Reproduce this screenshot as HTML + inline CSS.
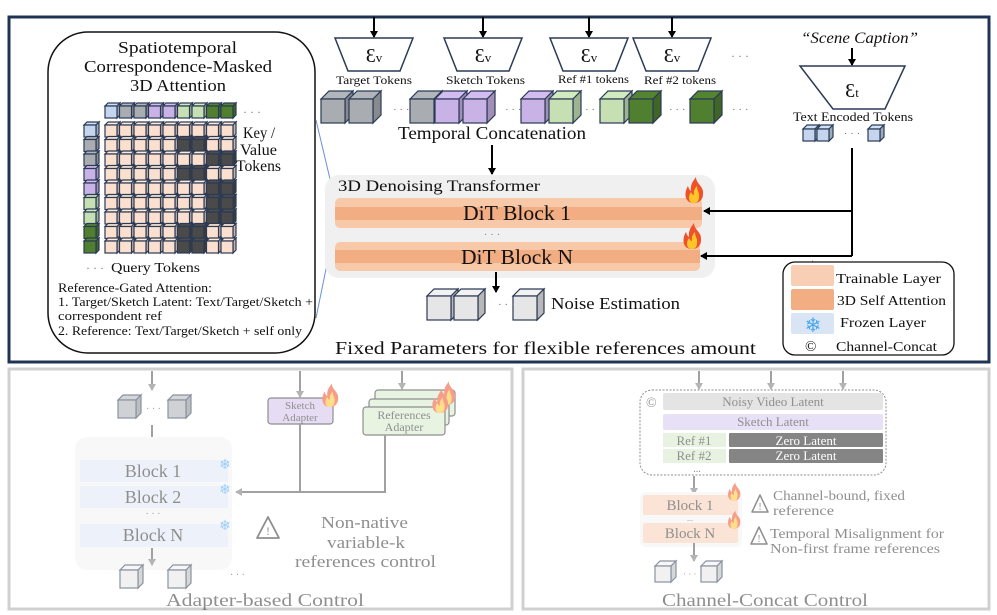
<!DOCTYPE html>
<html><head><meta charset="utf-8"><style>
html,body{margin:0;padding:0;background:#fff;}
svg{display:block;font-family:"Liberation Serif",serif;}
</style></head><body>
<svg id="s" width="997" height="615" viewBox="0 0 997 615" xmlns="http://www.w3.org/2000/svg">
<defs>
<marker id="ah" markerWidth="8" markerHeight="8" refX="6" refY="4" orient="auto" markerUnits="userSpaceOnUse"><path d="M0,0 L7,4 L0,8 Z" fill="#000"/></marker>
<marker id="ag" markerWidth="8" markerHeight="8" refX="6" refY="4" orient="auto" markerUnits="userSpaceOnUse"><path d="M0,0 L7,4 L0,8 Z" fill="#777"/></marker>
</defs>
<rect x="9" y="17" width="980" height="345" fill="#fff" stroke="#1f3455" stroke-width="3"/>
<rect x="9" y="369" width="503" height="240" fill="#fff" stroke="#d0d0d0" stroke-width="3"/>
<rect x="523" y="369" width="466" height="240" fill="#fff" stroke="#d0d0d0" stroke-width="3"/>

<rect x="48" y="32" width="267" height="321" rx="40" fill="#fff" stroke="#111" stroke-width="1.5"/>
<line x1="316" y1="120" x2="335" y2="200" stroke="#6a8fd8" stroke-width="1"/>
<line x1="316" y1="318" x2="335" y2="225" stroke="#6a8fd8" stroke-width="1"/>
<g font-size="17" fill="#111" lengthAdjust="spacingAndGlyphs">
<text x="118" y="53" textLength="119" lengthAdjust="spacingAndGlyphs">Spatiotemporal</text>
<text x="84" y="72" textLength="188" lengthAdjust="spacingAndGlyphs">Correspondence-Masked</text>
<text x="130" y="91" textLength="96" lengthAdjust="spacingAndGlyphs">3D Attention</text>
</g>
<g font-size="16" fill="#111">
<text x="243" y="138" textLength="32" lengthAdjust="spacingAndGlyphs">Key /</text>
<text x="240" y="155" textLength="37" lengthAdjust="spacingAndGlyphs">Value</text>
<text x="236" y="171" textLength="45" lengthAdjust="spacingAndGlyphs">Tokens</text>
<text x="243" y="116" font-size="12" fill="#777">· · ·</text>
<text x="86" y="272" font-size="12" fill="#777">· · ·</text>
<text x="111" y="272" font-size="14" textLength="89" lengthAdjust="spacingAndGlyphs">Query Tokens</text>
</g>
<g font-size="13" fill="#111">
<text x="58" y="292" textLength="154" lengthAdjust="spacingAndGlyphs">Reference-Gated Attention:</text>
<text x="58" y="306" textLength="255" lengthAdjust="spacingAndGlyphs">1. Target/Sketch  Latent: Text/Target/Sketch +</text>
<text x="58" y="320" textLength="104" lengthAdjust="spacingAndGlyphs">correspondent ref</text>
<text x="58" y="335" textLength="244" lengthAdjust="spacingAndGlyphs">2. Reference: Text/Target/Sketch + self only</text>
</g>
<g id="grid"></g>

<g id="enc"></g>
<g font-size="12" fill="#111">
<text x="336" y="84" textLength="76" lengthAdjust="spacingAndGlyphs">Target Tokens</text>
<text x="446" y="84" textLength="79" lengthAdjust="spacingAndGlyphs">Sketch Tokens</text>
<text x="558" y="83" textLength="71" lengthAdjust="spacingAndGlyphs">Ref #1 tokens</text>
<text x="644" y="84" textLength="72" lengthAdjust="spacingAndGlyphs">Ref #2 tokens</text>
<text x="731" y="60" fill="#777">· · ·</text>
</g>
<g id="cubes"></g>
<text x="398" y="139" font-size="18" fill="#111" textLength="188" lengthAdjust="spacingAndGlyphs">Temporal Concatenation</text>
<line x1="492" y1="145" x2="492" y2="174" stroke="#000" stroke-width="2" marker-end="url(#ah)"/>

<rect x="325" y="175" width="390" height="103" rx="14" fill="#f0f0f0"/>
<text x="338" y="191" font-size="16" fill="#111" textLength="202" lengthAdjust="spacingAndGlyphs">3D Denoising Transformer</text>
<rect x="335" y="198" width="367" height="30" rx="5" fill="#f7c9a9"/>
<rect x="335" y="207" width="367" height="13" fill="#f2ad82"/>
<text x="463" y="220" font-size="21" fill="#111" textLength="108" lengthAdjust="spacingAndGlyphs">DiT Block 1</text>
<text x="492" y="238" font-size="11" text-anchor="middle" fill="#888">· · ·</text>
<rect x="335" y="242" width="365" height="29" rx="5" fill="#f7c9a9"/>
<rect x="335" y="250" width="365" height="13" fill="#f2ad82"/>
<text x="461" y="264" font-size="21" fill="#111" textLength="112" lengthAdjust="spacingAndGlyphs">DiT Block N</text>
<g id="fires"></g>

<text x="801" y="43" font-size="16" font-style="italic" fill="#111" textLength="117" lengthAdjust="spacingAndGlyphs">“Scene Caption”</text>
<line x1="852" y1="48" x2="852" y2="65" stroke="#000" stroke-width="2" marker-end="url(#ah)"/>
<path d="M800,66 L905,66 L885,109 L833,109 Z" fill="#fff" stroke="#2b3a55" stroke-width="1.5"/>
<text x="852" y="97" font-size="20" text-anchor="middle" fill="#111">Ɛ<tspan font-size="13">t</tspan></text>
<text x="793" y="121" font-size="13" fill="#111" textLength="120" lengthAdjust="spacingAndGlyphs">Text Encoded Tokens</text>
<text x="852" y="137" font-size="11" text-anchor="middle" fill="#777">· · ·</text>
<path d="M852,148 L852,256" stroke="#000" stroke-width="2" fill="none"/>
<line x1="852" y1="211" x2="704" y2="211" stroke="#000" stroke-width="2" marker-end="url(#ah)"/>
<line x1="852" y1="256" x2="701" y2="256" stroke="#000" stroke-width="2" marker-end="url(#ah)"/>

<line x1="496" y1="272" x2="496" y2="292" stroke="#000" stroke-width="2" marker-end="url(#ah)"/>
<text x="498" y="308" font-size="11" fill="#777">· · ·</text>
<text x="551" y="309" font-size="17" fill="#111" textLength="129" lengthAdjust="spacingAndGlyphs">Noise Estimation</text>
<text x="335" y="354" font-size="18" fill="#111" textLength="421" lengthAdjust="spacingAndGlyphs">Fixed Parameters for flexible references amount</text>

<rect x="783" y="262" width="171" height="93" rx="12" fill="#fff" stroke="#111" stroke-width="1.3"/>
<rect x="791" y="265" width="43" height="21" rx="2" fill="#f8cfb4"/>
<rect x="791" y="289" width="43" height="21" rx="2" fill="#f2ad82"/>
<rect x="791" y="313" width="43" height="21" rx="2" fill="#d9e5f5"/>
<g font-size="14" fill="#111">
<text x="836" y="283" textLength="105" lengthAdjust="spacingAndGlyphs">Trainable Layer</text>
<text x="837" y="305" textLength="109" lengthAdjust="spacingAndGlyphs">3D Self Attention</text>
<text x="840" y="327" textLength="86" lengthAdjust="spacingAndGlyphs">Frozen Layer</text>
<text x="805" y="351" font-size="15">©</text>
<text x="836" y="351" textLength="101" lengthAdjust="spacingAndGlyphs">Channel-Concat</text>
</g>
<text x="813" y="332" font-size="20" text-anchor="middle" fill="#4aa8f0">❄</text>

<g id="bl" opacity="0.55">
<line x1="152" y1="371" x2="152" y2="390" stroke="#555" stroke-width="2" marker-end="url(#ag)"/>
<text x="146" y="412" font-size="10" fill="#555">· · ·</text>
<line x1="152" y1="425" x2="152" y2="458" stroke="#555" stroke-width="2" marker-end="url(#ag)"/>
<rect x="75" y="437" width="157" height="133" rx="12" fill="#f3f3f3"/>
<rect x="80" y="460" width="148" height="22" fill="#dfe7f6"/>
<rect x="80" y="486" width="148" height="22" fill="#dfe7f6"/>
<rect x="80" y="524" width="148" height="23" fill="#dfe7f6"/>
<g font-size="18" text-anchor="middle" fill="#333">
<text x="153" y="477">Block 1</text>
<text x="153" y="503">Block 2</text>
<text x="153" y="541">Block N</text>
</g>
<text x="153" y="517" font-size="10" text-anchor="middle" fill="#555">· · ·</text>
<g font-size="14" fill="#4aa8f0" text-anchor="middle"><text x="225" y="469">❄</text><text x="225" y="494">❄</text><text x="225" y="530">❄</text></g>
<line x1="152" y1="548" x2="152" y2="565" stroke="#555" stroke-width="2" marker-end="url(#ag)"/>
<text x="230" y="578" font-size="10" fill="#555">· · ·</text>
<line x1="300" y1="371" x2="300" y2="397" stroke="#555" stroke-width="2" marker-end="url(#ag)"/>
<rect x="268" y="398" width="65" height="26" rx="3" fill="#d2c3ee" stroke="#333" stroke-width="1.2"/>
<text x="300" y="409" font-size="11" text-anchor="middle" fill="#333">Sketch</text>
<text x="300" y="421" font-size="11" text-anchor="middle" fill="#333">Adapter</text>
<line x1="402" y1="371" x2="402" y2="389" stroke="#555" stroke-width="2" marker-end="url(#ag)"/>
<rect x="375" y="390" width="80" height="26" rx="3" fill="#d7ebcc" stroke="#333" stroke-width="1.2"/>
<rect x="369" y="399" width="80" height="26" rx="3" fill="#d7ebcc" stroke="#333" stroke-width="1.2"/>
<rect x="363" y="407" width="82" height="28" rx="3" fill="#d7ebcc" stroke="#333" stroke-width="1.2"/>
<text x="404" y="419" font-size="12" text-anchor="middle" fill="#333">References</text>
<text x="404" y="431" font-size="12" text-anchor="middle" fill="#333">Adapter</text>
<path d="M300,424 L300,492 M385,435 L385,492 L236,492" stroke="#555" stroke-width="2" fill="none" marker-end="url(#ag)"/>
<path d="M268,517 L257,538 L279,538 Z" fill="none" stroke="#333" stroke-width="1.8" stroke-linejoin="round"/>
<text x="268" y="535" font-size="12" text-anchor="middle" fill="#333">!</text>
<g font-size="17" fill="#333">
<text x="321" y="528" textLength="87" lengthAdjust="spacingAndGlyphs">Non-native</text>
<text x="327" y="548" textLength="78" lengthAdjust="spacingAndGlyphs">variable-k</text>
<text x="295" y="567" textLength="141" lengthAdjust="spacingAndGlyphs">references control</text>
</g>
<text x="166" y="606" font-size="18" fill="#333" textLength="198" lengthAdjust="spacingAndGlyphs">Adapter-based Control</text>
</g>

<g id="br" opacity="0.55">
<g stroke="#555" stroke-width="2"><line x1="699" y1="371" x2="699" y2="389" marker-end="url(#ag)"/><line x1="771" y1="371" x2="771" y2="389" marker-end="url(#ag)"/><line x1="843" y1="371" x2="843" y2="389" marker-end="url(#ag)"/></g>
<rect x="640" y="390" width="246" height="85" rx="12" fill="none" stroke="#333" stroke-width="1" stroke-dasharray="2,1.5"/>
<text x="646" y="407" font-size="14" fill="#333">©</text>
<rect x="663" y="393" width="220" height="17" rx="2" fill="#cfcfcf"/>
<rect x="663" y="414" width="220" height="16" rx="2" fill="#d6c8f0"/>
<rect x="663" y="433" width="63" height="14" rx="1" fill="#d4ebc8"/>
<rect x="729" y="433" width="154" height="14" rx="1" fill="#222"/>
<rect x="663" y="449" width="63" height="14" rx="1" fill="#d4ebc8"/>
<rect x="729" y="449" width="154" height="14" rx="1" fill="#222"/>
<g font-size="13" text-anchor="middle" fill="#333">
<text x="773" y="406">Noisy Video Latent</text>
<text x="773" y="426">Sketch Latent</text>
<text x="694" y="445">Ref #1</text>
<text x="694" y="460">Ref #2</text>
<text x="806" y="445" fill="#fff">Zero Latent</text>
<text x="806" y="460" fill="#fff">Zero Latent</text>
<text x="697" y="472" font-size="10">...</text>
</g>
<line x1="694" y1="476" x2="694" y2="494" stroke="#555" stroke-width="2" marker-end="url(#ag)"/>
<rect x="640" y="492" width="102" height="55" rx="6" fill="#f3f3f3"/>
<rect x="643" y="495" width="95" height="20" rx="2" fill="#f8cfb4"/>
<rect x="643" y="523" width="95" height="20" rx="2" fill="#f8cfb4"/>
<g font-size="15" text-anchor="middle" fill="#333"><text x="690" y="510">Block 1</text><text x="690" y="538">Block N</text></g>
<text x="690" y="521" font-size="8" text-anchor="middle" fill="#555">...</text>
<line x1="694" y1="543" x2="694" y2="561" stroke="#555" stroke-width="2" marker-end="url(#ag)"/>
<text x="683" y="577" font-size="9" fill="#555">· · ·</text>
<path d="M760,495 L752,512 L768,512 Z" fill="none" stroke="#333" stroke-width="1.5" stroke-linejoin="round"/>
<text x="760" y="510" font-size="10" text-anchor="middle" fill="#333">!</text>
<path d="M759,527 L751,544 L767,544 Z" fill="none" stroke="#333" stroke-width="1.5" stroke-linejoin="round"/>
<text x="759" y="542" font-size="10" text-anchor="middle" fill="#333">!</text>
<g font-size="14" fill="#333">
<text x="773" y="500" textLength="132" lengthAdjust="spacingAndGlyphs">Channel-bound, fixed</text>
<text x="773" y="515" textLength="61" lengthAdjust="spacingAndGlyphs">reference</text>
<text x="770" y="538" textLength="174" lengthAdjust="spacingAndGlyphs">Temporal Misalignment for</text>
<text x="770" y="553" textLength="170" lengthAdjust="spacingAndGlyphs">Non-first frame references</text>
</g>
<text x="662" y="606" font-size="18" fill="#333" textLength="206" lengthAdjust="spacingAndGlyphs">Channel-Concat Control</text>
</g>
</svg>
<script>
var NS="http://www.w3.org/2000/svg";
function el(p,t,a){var e=document.createElementNS(NS,t);for(var k in a)e.setAttribute(k,a[k]);p.appendChild(e);return e;}
function shade(c,f){var n=parseInt(c.slice(1),16),r=n>>16,g=(n>>8)&255,b=n&255;r=Math.round(r*f);g=Math.round(g*f);b=Math.round(b*f);return "rgb("+Math.min(r,255)+","+Math.min(g,255)+","+Math.min(b,255)+")";}
function cube(p,x,y,s,d,c,sw){sw=sw||1.2;var st="#2b3a55";
el(p,"polygon",{points:[x,y,x+d,y-d,x+s+d,y-d,x+s,y].join(","),fill:shade(c,1.05),stroke:st,"stroke-width":sw});
el(p,"polygon",{points:[x+s,y,x+s+d,y-d,x+s+d,y+s-d,x+s,y+s].join(","),fill:shade(c,0.8),stroke:st,"stroke-width":sw});
el(p,"rect",{x:x,y:y,width:s,height:s,fill:c,stroke:st,"stroke-width":sw});}
var C={p:"#fbe0cf",k:"#4a4a4a",b:"#c5d5ee",g:"#a9adb2",u:"#c9b3e6",l:"#c6e0b4",d:"#4f7f2f",w:"#e6e6e6"};
var g=document.getElementById("grid");
var cols=["b","g","g","u","u","l","l","d","d"];
var dark={1:[5,6],2:[7,8],3:[5,6],4:[7,8],5:[7,8],6:[7,8],7:[5,6],8:[5,6]};
for(var i=0;i<9;i++)cube(g,105+i*14.5,106,12,3,C[cols[i]]);
for(var r=0;r<9;r++){cube(g,84,125+r*14.5,12,3,C[cols[r]]);
for(var i=0;i<9;i++){var dk=dark[r]&&dark[r].indexOf(i)>=0;cube(g,105+i*14.5,125+r*14.5,12,3,dk?C.k:C.p);}}
var en=document.getElementById("enc");
[[374],[483],[589],[672]].forEach(function(a){var cx=a[0];
el(en,"line",{x1:cx,y1:17,x2:cx,y2:37,stroke:"#000","stroke-width":2,"marker-end":"url(#ah)"});
el(en,"path",{d:"M"+(cx-39)+",38 L"+(cx+39)+",38 L"+(cx+26)+",71 L"+(cx-26)+",71 Z",fill:"#fff",stroke:"#2b3a55","stroke-width":1.5});
var t=el(en,"text",{x:cx,y:62,"font-size":20,"text-anchor":"middle",fill:"#111"});t.innerHTML='Ɛ<tspan font-size="13">v</tspan>';});
var cb=document.getElementById("cubes");
[[321,"g"],[349,"g"],[410,"g"],[435,"u"],[463,"u"],[521,"u"],[549,"l"],[600,"l"],[629,"d"],[690,"d"]].forEach(function(a){cube(cb,a[0],99,24,8,C[a[1]]);});
[[393],[505],[585],[669],[732]].forEach(function(a){el(cb,"text",{x:a[0],y:113,"font-size":11,fill:"#777"}).textContent="· · ·";});
[803,817,868].forEach(function(x){cube(cb,x,129,12,4,C.b);});
[427,454,513].forEach(function(x){cube(cb,x,296,24,7,C.w);});
var bl=document.getElementById("bl");
[118,168].forEach(function(x){cube(bl,x,400,18,5,C.g);});
[120,168].forEach(function(x){cube(bl,x,570,18,5,C.w);});
var br=document.getElementById("br");
[655,701].forEach(function(x){cube(br,x,566,16,5,C.w);});
function fire(p,cx,cy,s){s=s||1;var q=function(a,b){return (cx+a*s)+","+(cy+b*s);};
el(p,"path",{d:"M"+q(0,11)+" C"+q(-10,11)+" "+q(-10,0)+" "+q(-6,-6)+" C"+q(-5,-2)+" "+q(-3,-1)+" "+q(-3,-1)+" C"+q(-4,-8)+" "+q(0,-12)+" "+q(2,-15)+" C"+q(2,-8)+" "+q(10,-6)+" "+q(9,2)+" C"+q(9,8)+" "+q(5,11)+" "+q(0,11)+" Z",fill:"#f0502a"});
el(p,"path",{d:"M"+q(0,11)+" C"+q(-6,11)+" "+q(-6,4)+" "+q(-3,0)+" C"+q(-2,3)+" "+q(0,3)+" "+q(0,3)+" C"+q(-1,-2)+" "+q(2,-5)+" "+q(3,-6)+" C"+q(3,-1)+" "+q(6,1)+" "+q(5,5)+" C"+q(5,9)+" "+q(3,11)+" "+q(0,11)+" Z",fill:"#ffc629"});}
var f=document.getElementById("fires");
fire(f,694,192);fire(f,692,238);fire(f,811,275);
fire(bl,330,397,0.9);fire(bl,447,395,0.9);fire(bl,440,403,0.9);
fire(br,734,493,0.7);fire(br,734,521,0.7);
</script>
</body></html>
